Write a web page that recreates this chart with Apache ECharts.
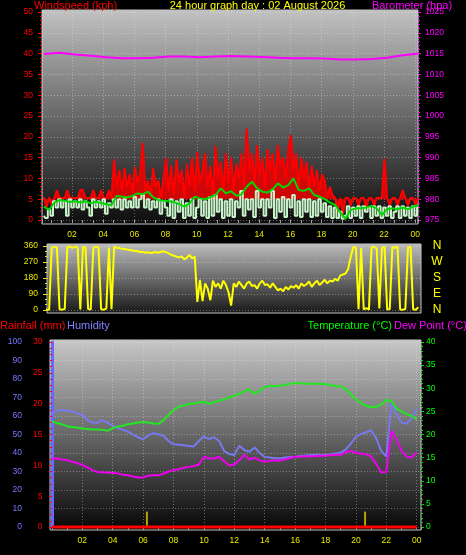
<!DOCTYPE html>
<html><head><meta charset="utf-8">
<script src="https://cdn.jsdelivr.net/npm/echarts@6/dist/echarts.min.js"></script>
<style>html,body{margin:0;padding:0;background:#000;overflow:hidden}#c{width:466px;height:555px}</style>
</head><body><div id="c"></div>
<script>
// ---------- tick labels ----------
const hourTicks = [2,4,6,8,10,12,14,16,18,20,22,24];
const hourLabels = ['02','04','06','08','10','12','14','16','18','20','22','00'];
const dirTicks = [0,90,180,270,360];
const dirLetters = ['N','E','S','W','N'];

// ---------- top panel: wind (10-min samples from 00:12) ----------
const windGust = [
 5.5,3,5.5,3.5,5.3,7.2,5.3,5.3,5.3,7.2,5.3,5.3,5.3,5.3,7.2,7.2,5.3,5.3,5.3,7.2,5.3,5.3,7.2,5.3,5.3,7.2,5.3,
 14.5,8,12,7,12.5,8,11,6.5,12.7,9,11,
 18.5,7,9.5,6,12.5,8,9.6,5.5,10,15,7,
 13,6,14.5,9,12,5.5,13.5,8,15,7,16.3,
 9,12,16,8,13,6,17.8,10,14,7,16,
 9,15,7,13.5,10,16,8,22,12,
 16,9,18,11,15,8,17,12,16,9,18,13,15,10,17,20.4,12,16,
 8,15,10,14,7.5,13,8,12,7,11,
 9.5,5.5,8,6,
 5.3,2,5.3,1.5,
 5.3,5.3,3.5,5.3,5.3,3.5,5.3,5.3,3,5.3,5.3,3.5,5.3,5.3,5.3,14.7,5.3,3.5,5.3,5.3,3.5,5.3,7.2,5.3,3.5,5.3,5.3,3.5,5.3
];
const windSpeed = [
 1,0.5,2.5,1,4.5,3,5,3,4.5,1,5,3,4.5,3,5,2.5,4.5,3,1,5,3,4.5,3,5,1.5,4,3,
 5,3,5,2.5,5,3,4.5,3,5.5,3,5,6,3,5,2.5,4.5,3,5,1.5,4.5,3,
 1,5,0.5,4.5,2,5,0.5,4,1,5,0.5,3,5,1,4.5,0.5,5.5,1,6,2,5,0.5,4.5,
 1,5,0.7,4.5,3,7,1,5,2.5,5,0.7,7,3,5,1,5,3,7,0.5,5,2,5.5,0.7,5,3,6,1,4.5,0.7,5,2,5,0.7,4.5,1,5,2,4,0.7,3.3,
 0.5,3,0.5,2,0.3,1,3.3,0.5,3,1,3.3,0.5,3.3,2,3,0.5,3.3,1,3.3,0.5,3,1,3.3,0.5,2,3.3,0.5,3.3,1,3,0.5,3.3,1,3
];
// 20-min samples from 00:12
const windAvg = [
 3.2,2.4,4.2,4.8,4.6,4.3,4.5,4.2,4.5,4.0,
 4.4,4.1,3.8,3.6,5.8,5.6,5.4,5.8,6.4,6.2,
 6.8,5.5,4.8,4.6,4.5,4.3,3.8,3.2,4.0,5.6,
 5.2,5.0,5.5,6.0,7.6,6.4,6.9,5.8,6.2,8.0,
 9.2,7.6,6.8,6.6,7.4,8.8,7.8,8.4,10.0,7.2,
 7.0,7.6,6.0,5.6,5.0,4.2,3.6,1.8,0.3,2.4,
 2.8,2.8,3.0,3.4,2.8,1.2,2.6,2.8,2.6,3.0,
 2.6,3.2,3.6
];
// hourly from 00:12
const barometer = [1014.9,1015.2,1014.8,1014.5,1014.1,1013.9,1013.9,1014.0,1014.3,1014.3,1014.1,1014.3,1014.4,
 1014.3,1014.2,1014.0,1013.9,1013.9,1013.8,1013.6,1013.6,1013.7,1014.0,1014.6,1015.0];

// ---------- middle panel: wind direction (10-min from 00:12) ----------
const windDir = [
 5,3,2,350,355,352,4,2,6,354,357,350,355,352,3,356,350,5,2,350,355,352,4,2,8,352,5,
 356,350,348,345,343,340,338,335,333,330,326,328,322,325,320,323,326,322,328,330,325,318,310,305,300,296,302,285,295,310,290,300,
 45,170,50,150,120, 55,165,130,150,120, 165,140,100,25,150, 130,160,140,120,150,
 160,135,140,120,150, 165,140,145,125,150, 130,110,120,105,130, 115,135,125,140,120,
 150,135,145,160,130, 150,165,140,155,170, 150,165,160,175,165, 195,200,205,
 230,300,355,350,5,350,3,10,2,352,356,345,8,350,355,3,5,355,350,357,3,2,6,352,355,4,2,15
];

// ---------- bottom panel (20-min samples from 00:00) ----------
const temperature = [
 22.8,22.5,22.2,21.8,21.6,21.5,21.3,21.2,21.1,21.1,
 21.0,20.8,21.4,21.7,21.9,22.2,22.4,22.6,22.7,22.6,
 22.4,22.3,23.1,24.2,25.3,26.0,26.3,26.6,26.7,26.9,
 27.1,26.6,27.0,27.3,27.6,28.1,28.3,28.9,29.3,29.8,
 28.8,29.5,30.3,30.5,30.5,30.5,30.7,31.0,31.1,31.1,
 31.0,31.0,31.0,30.9,30.9,30.7,30.5,30.4,29.8,28.7,
 27.6,26.8,26.2,25.9,26.0,26.5,27.5,27.2,25.6,25.0,
 24.4,24.0,23.3
];
const humidity = [
 61.1,63.0,63.2,62.9,62.5,61.4,60.5,57.8,56.5,56.4,
 57.8,56.5,54.6,53.5,52.5,51.6,50.0,48.5,47.4,49.5,
 50.7,50.1,49.5,46.5,44.7,44.5,44.2,43.8,43.5,46.5,
 49.0,47.5,48.5,46.5,41.0,39.5,38.9,44.0,41.5,40.7,
 43.0,40.0,37.8,37.6,37.2,37.1,37.6,37.8,38.0,38.3,
 38.6,38.9,38.9,38.9,38.9,39.2,39.8,40.2,42.0,45.0,
 48.8,50.3,51.2,52.3,48.0,41.0,38.0,67.7,61.0,56.5,
 55.8,58.7,64.1
];
const dewPoint = [
 14.8,14.8,14.6,14.5,14.1,13.8,13.4,12.9,12.3,11.9,
 11.8,11.8,11.7,11.6,11.3,11.2,10.9,10.7,10.7,11.1,
 11.2,11.2,11.5,12.0,12.3,12.5,12.8,13.0,13.2,13.5,
 15.2,14.8,14.8,15.2,14.2,13.3,13.5,14.5,15.6,14.6,
 15.0,14.4,14.1,14.3,14.4,14.4,14.6,14.9,15.2,15.2,
 15.3,15.3,15.3,15.4,15.4,15.5,15.6,15.6,16.2,16.5,
 16.0,15.9,15.7,15.3,13.6,11.8,11.9,20.8,19.0,16.5,
 15.2,15.0,16.2
];
// hourly from 00:00
const rainfall = [0,0,0,0,0,0,0,0,0,0,0,0,0,0,0,0,0,0,0,0,0,0,0,0,0];
const rainRateHours = [6.25, 20.6];
const rainRate = [2.5, 2.5];

// ---------- build ----------
const FONT = '"Liberation Sans", Arial, sans-serif';
const series = (arr, start, step) => arr.map((v, i) => [start + i * step, v]);
const grad = (a, b) => new echarts.graphic.LinearGradient(0, 0, 0, 1, [{offset: 0, color: a}, {offset: 1, color: b}]);
const dotted = {show: true, lineStyle: {color: 'rgba(235,235,235,0.38)', type: [1, 2], width: 1}};
const plain = v => String(v);
const lab = (color, extra) => Object.assign({color: color, fontSize: 8.5, fontFamily: FONT, formatter: plain}, extra || {});
const hourFmt = v => { const k = hourTicks.indexOf(Math.round(v * 100) / 100); return k >= 0 ? hourLabels[k] : ''; };
const ln = (color, width) => ({type: 'line', symbol: 'none', clip: false, lineStyle: {color: color, width: width}, itemStyle: {color: color}});
const txt = (x, y, text, color, align) => ({type: 'text', x: x, y: y, z: 5, style: {text: text, fill: color, font: '11px ' + FONT, align: align, textAlign: align, verticalAlign: 'middle', textVerticalAlign: 'middle'}});
const bg = (x, y, w, h, a, b) => ({type: 'rect', z: -10, shape: {x: x, y: y, width: w, height: h}, style: {fill: grad(a, b), stroke: '#c4c4c4', lineWidth: 1}});

const chart = echarts.init(document.getElementById('c'), null, {renderer: 'canvas', width: 466, height: 555});
chart.setOption({
  backgroundColor: '#000000',
  animation: false,
  graphic: [
    bg(42, 10, 376, 214, '#c2c2c2', '#0c0c0c'),
    bg(47, 244, 374, 69, '#bcbcbc', '#181818'),
    bg(50, 340, 371, 190, '#c8c8c8', '#060606'),
    txt(34, 6, 'Windspeed (kph)', '#ff0000', 'left'),
    txt(257.5, 6, '24 hour graph day : 02 August 2026', '#ffff00', 'center'),
    txt(372, 6, 'Barometer (hpa)', '#ff00ff', 'left'),
    txt(0, 326, 'Rainfall (mm)', '#ff0000', 'left'),
    txt(67, 326, 'Humidity', '#8080ff', 'left'),
    txt(392, 326, 'Temperature (°C)', '#00ff00', 'right'),
    txt(394, 326, 'Dew Point (°C)', '#ff00ff', 'left')
  ],
  grid: [
    {left: 42, top: 12, width: 376, height: 208},
    {left: 47, top: 246, width: 374, height: 64},
    {left: 51.9, top: 342, width: 369.1, height: 185},
    {left: 51.9, top: 342, width: 369.1, height: 185}
  ],
  xAxis: [
    {gridIndex: 0, type: 'value', min: 0.077, max: 24.18, splitNumber: 12, offset: 4,
     axisLine: {show: false}, axisTick: {show: true, length: 3, lineStyle: {color: '#a0a0a0'}},
     minorTick: {show: true, splitNumber: 3, length: 3, lineStyle: {color: '#a0a0a0'}},
     axisLabel: lab('#e8e800', {margin: 6, formatter: hourFmt}), splitLine: dotted},
    {gridIndex: 1, type: 'value', min: 0.397, max: 24.37, splitNumber: 12,
     axisLine: {show: false}, axisTick: {show: false}, axisLabel: {show: false}, splitLine: {show: false}},
    {gridIndex: 2, type: 'value', min: 0, max: 24.28, splitNumber: 12, offset: 3,
     axisLine: {show: false}, axisTick: {show: true, length: 3, lineStyle: {color: '#a0a0a0'}},
     minorTick: {show: true, splitNumber: 2, length: 3, lineStyle: {color: '#a0a0a0'}},
     axisLabel: lab('#e8e800', {margin: 6, formatter: hourFmt}), splitLine: dotted},
    {gridIndex: 3, type: 'value', min: 0, max: 24.28, show: false}
  ],
  yAxis: [
    {gridIndex: 0, type: 'value', position: 'left', min: 0, max: 50, interval: 5,
     axisLine: {show: false}, axisTick: {show: true, length: 4, lineStyle: {color: '#ff0000'}},
     minorTick: {show: true, splitNumber: 5, length: 2, lineStyle: {color: '#ff0000'}},
     axisLabel: lab('#ff0000', {margin: 9}), splitLine: dotted},
    {gridIndex: 0, type: 'value', position: 'right', min: 975, max: 1025, interval: 5,
     axisLine: {show: false}, axisTick: {show: true, length: 3, lineStyle: {color: '#ff00ff'}},
     minorTick: {show: true, splitNumber: 5, length: 2, lineStyle: {color: '#ff00ff'}},
     axisLabel: lab('#ff00ff', {margin: 7}), splitLine: {show: false}},
    {gridIndex: 1, type: 'value', position: 'left', min: 0, max: 360, interval: 90,
     axisLine: {show: false}, axisTick: {show: true, length: 4, lineStyle: {color: '#e8e800'}},
     minorTick: {show: true, splitNumber: 3, length: 2, lineStyle: {color: '#e8e800'}},
     axisLabel: lab('#e8e800', {margin: 9}), splitLine: dotted},
    {gridIndex: 1, type: 'value', position: 'right', min: 0, max: 360, interval: 90,
     axisLine: {show: false}, axisTick: {show: false}, splitLine: {show: false},
     axisLabel: {color: '#ffff00', fontSize: 12, fontFamily: FONT, align: 'center', margin: 16,
       formatter: v => { const k = dirTicks.indexOf(v); return k >= 0 ? dirLetters[k] : ''; }}},
    {gridIndex: 3, type: 'value', position: 'left', offset: 21.9, min: 0, max: 100, interval: 10,
     axisLine: {show: true, lineStyle: {color: '#6868ff', width: 3}},
     axisTick: {show: true, length: 3, lineStyle: {color: '#7070ff'}},
     minorTick: {show: true, splitNumber: 2, length: 2, lineStyle: {color: '#7070ff'}},
     axisLabel: lab('#7878ff', {margin: 8}), splitLine: dotted},
    {gridIndex: 2, type: 'value', position: 'left', min: 0, max: 30, interval: 5,
     axisLine: {show: false}, axisTick: {show: true, length: 3, lineStyle: {color: '#ff0000'}},
     minorTick: {show: true, splitNumber: 5, length: 2, lineStyle: {color: '#ff0000'}},
     axisLabel: lab('#ff0000', {margin: 9.5}), splitLine: {show: false}},
    {gridIndex: 2, type: 'value', position: 'right', min: 0, max: 40, interval: 5,
     axisLine: {show: false}, axisTick: {show: true, length: 3, lineStyle: {color: '#00e000'}},
     minorTick: {show: true, splitNumber: 5, length: 2, lineStyle: {color: '#00e000'}},
     axisLabel: lab('#00ff00', {margin: 5}), splitLine: {show: false}}
  ],
  series: [
    Object.assign(ln('#ff0000', 2), {xAxisIndex: 0, yAxisIndex: 0, data: series(windGust, 0.2, 1/6),
      areaStyle: {color: '#ee0000', opacity: 0.85, origin: 5}}),
    Object.assign(ln('#c8f2c8', 2), {xAxisIndex: 0, yAxisIndex: 0, step: 'middle', data: series(windSpeed, 0.2, 1/6)}),
    Object.assign(ln('#00d800', 2), {xAxisIndex: 0, yAxisIndex: 0, data: series(windAvg, 0.2, 1/3)}),
    Object.assign(ln('#ff00ff', 2), {xAxisIndex: 0, yAxisIndex: 1, data: series(barometer, 0.2, 1)}),
    Object.assign(ln('#ffff00', 2), {xAxisIndex: 1, yAxisIndex: 2, clip: true, data: series(windDir, 0.2, 1/6)}),
    Object.assign(ln('#ff0000', 3), {xAxisIndex: 2, yAxisIndex: 5, data: series(rainfall, 0, 1)}),
    {type: 'bar', xAxisIndex: 2, yAxisIndex: 5, barWidth: 2, itemStyle: {color: '#b4a400'},
     data: rainRateHours.map((h, i) => [h, rainRate[i]])},
    Object.assign(ln('#7878f0', 2), {xAxisIndex: 3, yAxisIndex: 4, data: series(humidity, 0, 1/3)}),
    Object.assign(ln('#22e822', 2), {xAxisIndex: 2, yAxisIndex: 6, data: series(temperature, 0, 1/3)}),
    Object.assign(ln('#ee00ee', 2), {xAxisIndex: 2, yAxisIndex: 6, data: series(dewPoint, 0, 1/3)})
  ]
});
</script></body></html>
